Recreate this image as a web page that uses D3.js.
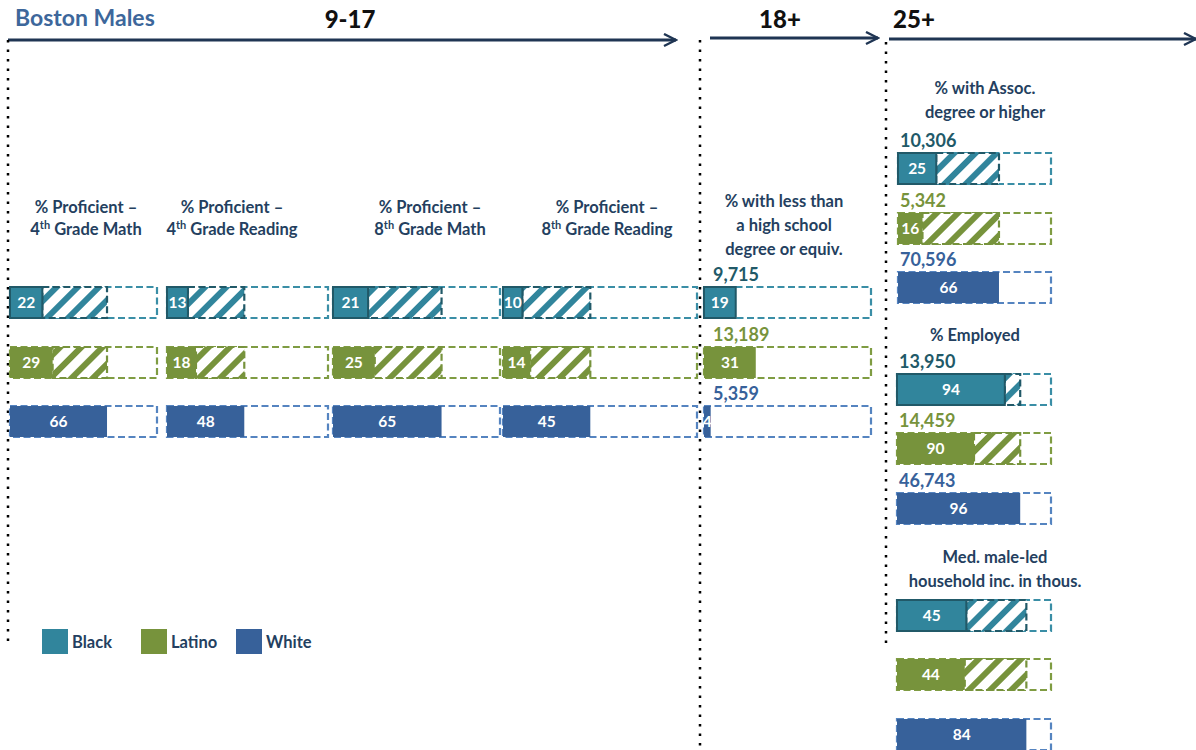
<!DOCTYPE html>
<html>
<head>
<meta charset="utf-8">
<script src="https://cdn.jsdelivr.net/npm/d3@7"></script>
<style>
  body { margin: 0; background: #fff; }
  svg text { font-family: Lato, "DejaVu Sans", sans-serif; font-weight: bold; }
</style>
</head>
<body>
<svg id="chart" width="1196" height="750"></svg>
<script>
// data
const groups = ["Black", "Latino", "White"]
const metricTitles = [
  ["% Proficient \u2013", "4^th Grade Math"],
  ["% Proficient \u2013", "4^th Grade Reading"],
  ["% Proficient \u2013", "8^th Grade Math"],
  ["% Proficient \u2013", "8^th Grade Reading"],
  ["% with less than", "a high school", "degree or equiv."],
  ["% with Assoc.", "degree or higher"],
  ["% Employed"],
  ["Med. male-led", "household inc. in thous."]
]
const blackValues  = [22, 13, 21, 10, 19, 25, 94, 45]
const latinoValues = [29, 18, 25, 14, 31, 16, 90, 44]
const whiteValues  = [66, 48, 65, 45, 4, 66, 96, 84]
const blackCounts  = ["", "", "", "", "9,715", "10,306", "13,950", ""]
const latinoCounts = ["", "", "", "", "13,189", "5,342", "14,459", ""]
const whiteCounts  = ["", "", "", "", "5,359", "70,596", "46,743", ""]
const domainMin    = [0, 0, 0, 0, 0, 0, 80, 0]
const ageLabels = ["9-17", "18+", "25+"]

const values = [blackValues, latinoValues, whiteValues]
const counts = [blackCounts, latinoCounts, whiteCounts]

// layout
const rowsMid = [287, 347, 406]
const layout = [
  {x0: 10,  x1: 157,  tx: 86,  ty: [213, 235], rows: rowsMid, cdx: 0},
  {x0: 167, x1: 328,  tx: 232, ty: [213, 235], rows: rowsMid, cdx: 0},
  {x0: 333, x1: 500,  tx: 430, ty: [213, 235], rows: rowsMid, cdx: 0},
  {x0: 503, x1: 697,  tx: 607, ty: [213, 235], rows: rowsMid, cdx: 0},
  {x0: 704, x1: 871,  tx: 784, ty: [207, 231, 255], rows: rowsMid, cdx: 9},
  {x0: 898, x1: 1051, tx: 985, ty: [94, 118], rows: [153, 213, 272], cdx: 2},
  {x0: 897, x1: 1051, tx: 975, ty: [341], rows: [374, 433, 493], cdx: 2},
  {x0: 897, x1: 1051, tx: 995, ty: [563, 587], rows: [600, 659, 719], cdx: 2}
]
const barH = 31
const fills  = {Black: "#31859c", Latino: "#77933c", White: "#37619a"}
const edges  = {Black: "#215968", Latino: "#77933c", White: "#37619a"}
const dashes = {Black: "#3a8ea6", Latino: "#7f9c42", White: "#5584c0"}
const countColor = {Black: "#215968", Latino: "#77933c", White: "#37619a"}
const navy = "#243f60"

let svg = d3.select("#chart")
let defs = svg.append("defs")

groups.forEach(g => {
    let p = defs.append("pattern")
        .attr("id", `hatch-${g}`)
        .attr("patternUnits", "userSpaceOnUse")
        .attr("width", 15).attr("height", 15)
        .attr("patternTransform", "rotate(45)")
    p.append("rect").attr("width", 15).attr("height", 15).attr("fill", "#fff")
    p.append("rect").attr("width", 6).attr("height", 15).attr("fill", fills[g])
})
defs.append("marker").attr("id", "chev")
    .attr("viewBox", "0 0 10 10").attr("refX", 9).attr("refY", 5)
    .attr("markerWidth", 5).attr("markerHeight", 5).attr("markerUnits", "strokeWidth")
    .attr("orient", "auto")
    .append("path").attr("d", "M1,1 L9,5 L1,9").attr("fill", "none")
    .attr("stroke", "#1f3553").attr("stroke-width", 1.6)

// header
svg.append("text").attr("x", 15).attr("y", 26).text("Boston Males")
    .style("font-size", "23px").attr("fill", "#3d679b")

const arrows = [[8, 676, 40], [710, 878, 38], [889, 1196, 39]]
const arrowLabelX = [350, 780, 914]
arrows.forEach((a, i) => {
    svg.append("line").attr("x1", a[0]).attr("x2", a[1]).attr("y1", a[2]).attr("y2", a[2])
        .attr("stroke", "#1f3553").attr("stroke-width", 3)
        .attr("marker-end", "url(#chev)")
    svg.append("text").attr("x", arrowLabelX[i]).attr("y", 28)
        .attr("text-anchor", "middle").text(ageLabels[i])
        .style("font-size", "24px").style("font-weight", 900).attr("fill", "#111")
})

// dotted separators
const seps = [[8, 40, 642], [700, 40, 750], [886, 42, 645]]
seps.forEach(s => {
    svg.append("line").attr("x1", s[0]).attr("x2", s[0]).attr("y1", s[1]).attr("y2", s[2])
        .attr("stroke", "#000").attr("stroke-width", 2.5).attr("stroke-dasharray", "2.5,7")
})

// panels
layout.forEach((L, m) => {
    let x = d3.scaleLinear().domain([domainMin[m], 100]).range([L.x0, L.x1])
    let panel = svg.append("g")

    // title lines, "^" marks a superscript
    metricTitles[m].forEach((line, li) => {
        let t = panel.append("text").attr("x", L.tx).attr("y", L.ty[li])
            .attr("text-anchor", "middle").attr("fill", navy).style("font-size", "16.5px")
        if (line.includes("^")) {
            let parts = line.split("^")
            let sup = parts[1].slice(0, 2)
            t.append("tspan").text(parts[0])
            t.append("tspan").text(sup).attr("dy", -6).style("font-size", "11px")
            t.append("tspan").text(parts[1].slice(2)).attr("dy", 6)
        } else {
            t.text(line)
        }
    })

    let wv = whiteValues[m]
    groups.forEach((g, gi) => {
        let v = values[gi][m]
        let y = L.rows[gi]
        // full-scale dashed outline
        panel.append("rect").attr("x", x(domainMin[m])).attr("y", y)
            .attr("width", x(100) - x(domainMin[m])).attr("height", barH)
            .attr("fill", "#fff").attr("stroke", dashes[g]).attr("stroke-width", 2.2)
            .attr("stroke-dasharray", "7,3.5")
        // gap to White
        if (g != "White" && v < wv) {
            panel.append("rect").attr("x", x(v)).attr("y", y)
                .attr("width", x(wv) - x(v)).attr("height", barH)
                .attr("fill", `url(#hatch-${g})`).attr("stroke", edges[g]).attr("stroke-width", 2.2)
                .attr("stroke-dasharray", "7,3.5")
        }
        panel.append("rect").attr("x", x(domainMin[m])).attr("y", y)
            .attr("width", x(v) - x(domainMin[m])).attr("height", barH)
            .attr("fill", fills[g])
            .attr("stroke", g == "Black" ? edges[g] : "none").attr("stroke-width", 2)
        panel.append("text").attr("x", (x(domainMin[m]) + x(v)) / 2).attr("y", y + barH / 2 + 5.5)
            .attr("text-anchor", "middle").attr("fill", "#fff").style("font-size", "15.5px")
            .text(v)
        if (counts[gi][m]) {
            panel.append("text").attr("x", L.x0 + L.cdx).attr("y", y - 6)
                .attr("fill", countColor[g]).style("font-size", "18px")
                .text(counts[gi][m])
        }
    })
})

// legend
const legendX = [42, 141, 236]
groups.forEach((g, i) => {
    svg.append("rect").attr("x", legendX[i]).attr("y", 629).attr("width", 26).attr("height", 25)
        .attr("fill", fills[g])
    svg.append("text").attr("x", legendX[i] + 30).attr("y", 648).text(g)
        .attr("fill", navy).style("font-size", "16.5px")
})
</script>
</body>
</html>
